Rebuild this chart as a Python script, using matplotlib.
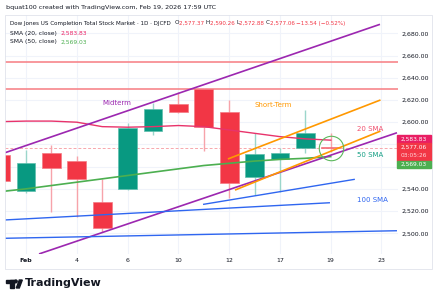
import matplotlib
matplotlib.use("Agg")
import matplotlib.pyplot as plt
from matplotlib.transforms import Affine2D
from matplotlib.patches import Rectangle, Polygon, Circle
import numpy as np

# ---------------- data ----------------
days = ["Jan 30", "Feb 2", "Feb 3", "Feb 4", "Feb 5", "Feb 6", "Feb 9", "Feb 10",
        "Feb 11", "Feb 12", "Feb 13", "Feb 17", "Feb 18", "Feb 19", "Feb 20", "Feb 23"]
candle_days = ["Jan 30", "Feb 2", "Feb 3", "Feb 4", "Feb 5", "Feb 6", "Feb 9", "Feb 10",
               "Feb 11", "Feb 12", "Feb 13", "Feb 17", "Feb 18", "Feb 19"]
opens  = [2570.5, 2538.3, 2572.3, 2565.3, 2527.9, 2539.6, 2591.8, 2616.4, 2629.6, 2609.4, 2550.4, 2566.8, 2576.5, 2577.37]
highs  = [2572.0, 2575.0, 2579.5, 2569.6, 2548.6, 2599.0, 2617.5, 2627.0, 2631.0, 2620.0, 2590.5, 2576.5, 2611.0, 2590.26]
lows   = [2545.0, 2536.0, 2519.4, 2514.4, 2501.4, 2539.0, 2588.2, 2608.5, 2574.4, 2531.5, 2534.5, 2537.4, 2572.5, 2572.88]
closes = [2547.0, 2563.3, 2558.5, 2548.6, 2504.5, 2594.5, 2612.1, 2609.4, 2595.9, 2545.5, 2571.1, 2572.0, 2590.0, 2577.06]
sma20  = [2600.5, 2601.0, 2601.0, 2600.0, 2596.0, 2595.5, 2596.0, 2597.0, 2596.0, 2593.0, 2590.0, 2587.0, 2585.0, 2583.83]
sma50  = [2537.5, 2540.0, 2543.0, 2546.0, 2549.0, 2552.0, 2555.0, 2558.0, 2561.0, 2563.0, 2565.0, 2566.5, 2567.5, 2569.03]
last_price = 2577.06
tick_days = ["Feb 2", "Feb 4", "Feb 6", "Feb 10", "Feb 12", "Feb 17", "Feb 19", "Feb 23"]
tick_labels = ["Feb", "4", "6", "10", "12", "17", "19", "23"]
price_ticks = [2500, 2520, 2540, 2560, 2580, 2600, 2620, 2640, 2660, 2680]
hidden_price_labels = [2560, 2580]  # covered by the price boxes on the scale
# drawn trend lines: (day index as float, price)
midterm_upper = [(-0.83, 2572.5), (13.94, 2688.1)]
midterm_lower = [(0.51, 2481.4), (14.61, 2590.5)]
short_upper = [(7.95, 2566.9), (13.96, 2620.0)]
short_lower = [(8.23, 2538.9), (13.96, 2592.0)]
blue_a = [(-0.83, 2512.0), (11.97, 2527.5)]
blue_b = [(6.97, 2526.0), (12.95, 2548.6)]
blue_c = [(-0.83, 2495.5), (14.61, 2502.3)]
resist_levels = [2654.4, 2629.6]
circle_pt = (12, 2577.0)

# ---------------- figure ----------------
W, H = 437, 300
fig = plt.figure(figsize=(W / 100, H / 100), dpi=100)
fig.patch.set_facecolor("white")
pxT = Affine2D().scale(1 / W, -1 / H).translate(0, 1) + fig.transFigure

ax = fig.add_axes([5 / W, 1 - 254 / H, (398 - 5) / W, (254 - 15) / H])
for s in ax.spines.values():
    s.set_visible(False)

idx = {d: i - 1 for i, d in enumerate(days)}  # Feb 2 -> 0
cx = np.array([idx[d] for d in candle_days], dtype=float)

ax.set_xlim(-0.83, 14.65)
ax.set_ylim(2481.35, 2696.5)

# grid
for d in tick_days:
    ax.axvline(idx[d], color="#f0f3fa", lw=0.8, zorder=0)
for p in price_ticks:
    ax.axhline(p, color="#f0f3fa", lw=0.8, zorder=0)

# resistance lines
for lv in resist_levels:
    ax.axhline(lv, color="#f7868b", lw=1.2, zorder=1)

# last price dashed line
ax.axhline(last_price, color="#f7a7ad", lw=0.7, ls=(0, (3, 2)), zorder=1)

# candles
up_c, dn_c = "#089981", "#f23645"
up_w, dn_w = "#9bd6cb", "#f7a3aa"
o = np.array(opens); c = np.array(closes); h = np.array(highs); l = np.array(lows)
up = c >= o
ax.vlines(cx, l, h, colors=np.where(up, up_w, dn_w), lw=1.0, zorder=2)
ax.bar(cx, np.maximum(np.abs(c - o), 0.3), bottom=np.minimum(o, c), width=0.74,
       color=np.where(up, up_c, dn_c), edgecolor=np.where(up, "#5fbfad", "#f57a84"),
       lw=0.5, zorder=3)

# SMAs
ax.plot(cx, sma20, color="#e8336b", lw=1.0, zorder=4)
ax.plot(cx, sma50, color="#4caf50", lw=1.2, zorder=4)

# trend lines
def seg(pts, color, lw=1.2):
    xs, ys = zip(*pts)
    ax.plot(xs, ys, color=color, lw=lw, zorder=5, solid_capstyle="butt")

seg(midterm_upper, "#9c27b0")
seg(midterm_lower, "#9c27b0")
seg(short_upper, "#ff9800")
seg(short_lower, "#ff9800")
seg(blue_a, "#2f66f0", 1.0)
seg(blue_b, "#2f66f0", 1.0)
seg(blue_c, "#2f66f0", 1.0)

ax.plot([circle_pt[0]], [circle_pt[1]], marker="o", ms=17.6, mfc="none",
        mec="#5cb85c", mew=0.8, zorder=6)

# y axis on right
ax.yaxis.tick_right()
ax.set_yticks(price_ticks)
ax.set_yticklabels(["" if p in hidden_price_labels else f"{p:,.2f}" for p in price_ticks])
ax.tick_params(axis="y", length=0, pad=2.5, labelsize=4.5, labelcolor="#131722")
ax.set_xticks([idx[d] for d in tick_days])
ax.set_xticklabels(tick_labels)
ax.tick_params(axis="x", length=0, pad=3.2, labelsize=4.5, labelcolor="#131722")
ax.get_xticklabels()[0].set_fontweight("bold")

# chart labels
def ptxt(x, y, s, color, size=4.8, **kw):
    return fig.text(x, y, s, color=color, transform=pxT, fontsize=size, va="center", **kw)

ptxt(117, 103, "Midterm", "#9c27b0", 5.0, ha="center")
ptxt(273, 105, "Short-Term", "#ff9800", 5.0, ha="center")
ptxt(357, 129, "20 SMA", "#f0506e", 5.0, ha="left")
ptxt(357, 155, "50 SMA", "#16a085", 5.0, ha="left")
ptxt(357, 200, "100 SMA", "#2f66f0", 5.0, ha="left")

# price boxes on the right scale
def pbox(y0, y1, color):
    fig.add_artist(Rectangle((397, y0), 34, y1 - y0, transform=pxT, color=color, zorder=10))

pbox(135, 142.8, "#e91e63")
pbox(143, 160.5, "#f23645")
pbox(160.7, 168.2, "#4caf50")
ptxt(414, 139, "2,583.83", "white", 4.2, ha="center", zorder=11)
ptxt(414, 147.6, "2,577.06", "white", 4.2, ha="center", zorder=11)
ptxt(414, 155.8, "03:05:26", "#ffd6da", 4.2, ha="center", zorder=11)
ptxt(414, 164.5, "2,569.03", "white", 4.2, ha="center", zorder=11)

# outer frame
fig.add_artist(Rectangle((5, 15), 427, 254, transform=pxT, fill=False,
                         edgecolor="#e0e3eb", lw=0.6))

# header texts
ptxt(6, 7, "bquat100 created with TradingView.com, Feb 19, 2026 17:59 UTC", "#131722", 4.6, ha="left")

renderer = fig.canvas.get_renderer()

def chain(x, y, parts, size=4.1):
    for s, col in parts:
        t = ptxt(x, y, s, col, size, ha="left")
        x += t.get_window_extent(renderer=renderer).width

red = "#f23645"
dark = "#131722"
chain(10, 23, [("Dow Jones US Completion Total Stock Market \u00b7 1D \u00b7 DJCFD  ", dark),
               ("O", dark), ("2,577.37 ", red), ("H", dark), ("2,590.26 ", red),
               ("L", dark), ("2,572.88 ", red), ("C", dark), ("2,577.06 ", red),
               ("\u221213.54 (\u22120.52%)", red)])
chain(10, 33, [("SMA (20, close)  ", dark), ("2,583.83", "#e91e63")], 4.3)
chain(10, 42, [("SMA (50, close)  ", dark), ("2,569.03", "#4caf50")], 4.3)

# TradingView logo
logo = "#131722"
fig.add_artist(Rectangle((6, 280), 7.5, 2.6, transform=pxT, color=logo))
fig.add_artist(Rectangle((10, 280), 3.5, 8, transform=pxT, color=logo))
fig.add_artist(Circle((15.8, 281.4), 1.4, transform=pxT, color=logo))
fig.add_artist(Polygon([(16.3, 288), (19.3, 288), (22.3, 280), (19.3, 280)],
                       closed=True, transform=pxT, color=logo))
ptxt(25, 283.5, "TradingView", logo, 8.0, ha="left", fontweight="semibold")

fig.savefig("out.png", dpi=100)
